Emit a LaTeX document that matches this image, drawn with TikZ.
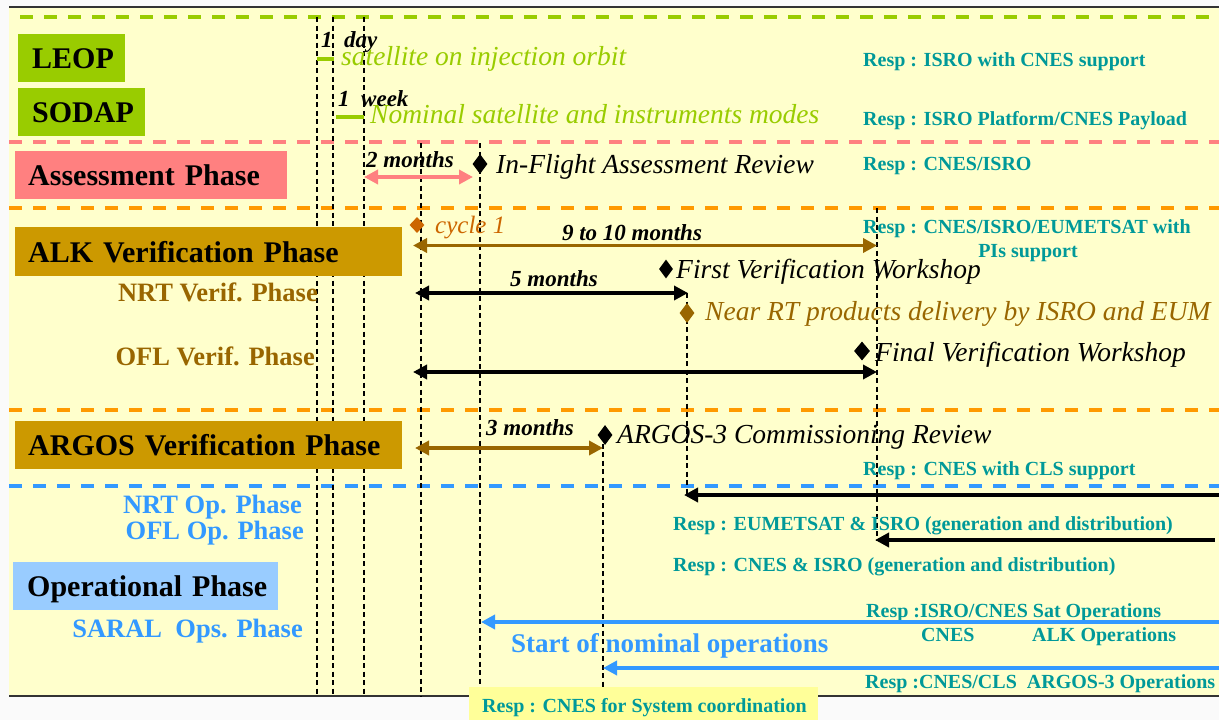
\documentclass[tikz,border=0pt]{standalone}
\usepackage{fontspec}
\setmainfont{Liberation Serif}
\usetikzlibrary{arrows.meta,shapes.geometric}
\definecolor{bgy}{HTML}{FFFFCC}
\definecolor{greenc}{HTML}{99CC00}
\definecolor{pinkc}{HTML}{FF8080}
\definecolor{orangec}{HTML}{FF9900}
\definecolor{bluec}{HTML}{3399FF}
\definecolor{goldc}{HTML}{CC9900}
\definecolor{brownc}{HTML}{996600}
\definecolor{cycc}{HTML}{CC6600}
\definecolor{tealc}{HTML}{009999}
\definecolor{lblue}{HTML}{99CCFF}
\definecolor{yboxc}{HTML}{FFFF99}
\definecolor{edgec}{HTML}{333333}
\newcommand\fsz[1]{\fontsize{#1}{#1}\selectfont}
\tikzset{
  hd/.style={line width=3.5pt, dash pattern=on 13pt off 11pt},
  vd/.style={line width=1.3pt, dash pattern=on 5pt off 3.5pt, black},
  dur/.style={font=\fsz{23}\bfseries\itshape, anchor=base west, inner sep=0pt},
  evt/.style={font=\fsz{27.5}\itshape, anchor=base west, inner sep=0pt},
  resp/.style={font=\fsz{20}\bfseries, text=tealc, anchor=base west, inner sep=0pt},
  sublab/.style={font=\fsz{26.5}\bfseries, anchor=base east, inner sep=0pt},
  dmd/.style={diamond, inner sep=0pt, minimum width=15pt, minimum height=20pt},
  darr/.style={line width=3.5pt, {Triangle[length=14pt,width=14pt]}-{Triangle[length=14pt,width=14pt]}},
  larr/.style={line width=3.5pt, {Triangle[length=14pt,width=14pt]}-},
  bar/.style={line width=4pt, greenc},
  phbox/.style={anchor=north west, inner ysep=0pt, text height=21pt, text depth=0pt, align=left, font=\fsz{30}\bfseries}
}
\begin{document}
\begin{tikzpicture}[x=1pt,y=-1pt]
\useasboundingbox (0,0) rectangle (1219,720);
\fill[white!98!black] (0,0) rectangle (1219,720);
\fill[bgy] (9,7) rectangle (1219,696);
\draw[line width=1.6pt, edgec] (9,7) -- (1219,7);
\draw[line width=1.6pt, edgec] (9,696) -- (1219,696);

% horizontal phase separators
\draw[hd, greenc] (20,17) -- (1219,17);
\draw[hd, pinkc] (9,142) -- (1219,142);
\draw[hd, orangec] (9,208) -- (1219,208);
\draw[hd, orangec] (9,410) -- (1219,410);
\draw[hd, bluec] (9,486) -- (1219,486);

% vertical time markers
\coordinate (t1a) at (317,17);  \coordinate (t1b) at (317,696);
\coordinate (t2a) at (333,17);  \coordinate (t2b) at (333,696);
\coordinate (t3a) at (364,17);  \coordinate (t3b) at (364,696);
\coordinate (t4a) at (421,143); \coordinate (t4b) at (421,696);
\coordinate (t5a) at (480,143); \coordinate (t5b) at (480,696);
\coordinate (t6a) at (603,435); \coordinate (t6b) at (603,687);
\coordinate (t7a) at (687,293); \coordinate (t7b) at (687,495);
\coordinate (t8a) at (877,208); \coordinate (t8b) at (877,540);
\foreach \i in {1,...,8} { \draw[vd] (t\i a) -- (t\i b); }

% phase boxes
\node[phbox, fill=greenc, inner xsep=14pt, text width=79pt, minimum height=48pt] (leop) at (18,34) {\mbox{LEOP}};
\node[phbox, fill=greenc, inner xsep=14pt, text width=99pt, minimum height=48pt] (sodap) at (18,88) {\mbox{SODAP}};
\node[phbox, fill=pinkc, inner xsep=13pt, text width=246pt, minimum height=48pt] (assess) at (15,151) {\mbox{Assessment Phase}};
\node[phbox, fill=goldc, inner xsep=13pt, text width=361pt, minimum height=49pt] (alk) at (15,227) {\mbox{ALK Verification Phase}};
\node[phbox, fill=goldc, inner xsep=13pt, text width=361pt, minimum height=48pt] (argosb) at (15,421) {\mbox{ARGOS Verification Phase}};
\node[phbox, fill=lblue, inner xsep=14pt, text width=237pt, minimum height=48pt] (oper) at (13,562) {\mbox{Operational Phase}};

% sub-phase labels
\node[sublab, text=brownc] (nrtv) at (318,301) {NRT Verif. Phase};
\node[sublab, text=brownc] (oflv) at (315,365) {OFL Verif. Phase};
\node[sublab, text=bluec] (nrto) at (302,513) {NRT Op. Phase};
\node[sublab, text=bluec] (oflo) at (304,539) {OFL Op. Phase};
\node[sublab, text=bluec] (saral) at (303,637) {SARAL~~Ops. Phase};

% LEOP / SODAP
\node[dur] (day) at (321,47) {1~~day};
\coordinate (b1a) at (317,59); \coordinate (b1b) at (334,59);
\draw[bar] (b1a) -- (b1b);
\node[evt, text=greenc] (sat) at (341,65.7) {satellite on injection orbit};
\node[dur] (week) at (338,106) {1~~week};
\coordinate (b2a) at (336,117); \coordinate (b2b) at (364,117);
\draw[bar] (b2a) -- (b2b);
\node[evt, text=greenc] (nom) at (370,123) {Nominal satellite and instruments modes};

% Assessment
\node[dur] (twom) at (366,167) {2 months};
\coordinate (p1) at (364,177); \coordinate (p2) at (473,177);
\draw[darr, pinkc] (p1) -- (p2);
\node[dmd, fill=black] (d1) at (480,164) {};
\node[evt] (ifar) at (496,173) {In-Flight Assessment Review};

% Resp texts top
\node[resp] (r1) at (863,66.7) {Resp : ISRO with CNES support};
\node[resp] (r2) at (863,125) {Resp : ISRO Platform/CNES Payload};
\node[resp] (r3) at (863,170) {Resp : CNES/ISRO};

% ALK verification
\node[dmd, fill=cycc, minimum width=15pt, minimum height=16pt] (dc) at (417,225) {};
\node[font=\fsz{25}\itshape, text=cycc, anchor=base west, inner sep=0pt] (cyc) at (435,233) {cycle 1};
\node[dur, anchor=base] (nine) at (632,240) {9 to 10 months};
\coordinate (a1l) at (413,245.5); \coordinate (a1r) at (877,245.5);
\draw[darr, brownc] (a1l) -- (a1r);
\node[resp] (r4) at (863,233) {Resp : CNES/ISRO/EUMETSAT with};
\node[resp, anchor=base] (r4b) at (1028,257) {PIs support};
\node[dmd, fill=black, minimum width=14pt, minimum height=19pt] (d2) at (666,269) {};
\node[evt] (fvw) at (676,278) {First Verification Workshop};
\node[dur] (five) at (510,286) {5 months};
\coordinate (a2l) at (415,293); \coordinate (a2r) at (688,293);
\draw[darr, black] (a2l) -- (a2r);
\node[dmd, fill=brownc] (d3) at (687,313) {};
\node[evt, text=brownc] (nrtd) at (705,320) {Near RT products delivery by ISRO and EUM};
\node[dmd, fill=black, minimum width=16pt, minimum height=19pt] (d4) at (862,351) {};
\node[evt] (final) at (875,361.7) {Final Verification Workshop};
\coordinate (a3l) at (413,372); \coordinate (a3r) at (877,372);
\draw[darr, black] (a3l) -- (a3r);

% ARGOS verification
\node[dur] (three) at (486,435) {3 months};
\coordinate (a4l) at (415,448); \coordinate (a4r) at (603,448);
\draw[darr, brownc] (a4l) -- (a4r);
\node[dmd, fill=black] (d5) at (605,435) {};
\node[evt] (argos) at (617,443) {ARGOS-3 Commissioning Review};
\node[resp] (r5) at (863,475) {Resp : CNES with CLS support};

% Operational
\coordinate (o1r) at (1219,495); \coordinate (o1l) at (684,495);
\draw[larr, black] (o1l) -- (o1r);
\node[resp] (r6) at (673,530) {Resp : EUMETSAT \& ISRO (generation and distribution)};
\coordinate (o2r) at (1215,540); \coordinate (o2l) at (875,540);
\draw[larr, black] (o2l) -- (o2r);
\node[resp] (r7) at (673,571) {Resp : CNES \& ISRO (generation and distribution)};
\node[resp] (r8) at (866,617) {Resp :ISRO/CNES Sat Operations};
\coordinate (o3r) at (1219,622); \coordinate (o3l) at (481,622);
\draw[larr, bluec] (o3l) -- (o3r);
\node[resp] (cnes) at (921,641) {CNES};
\node[resp] (alkop) at (1032,641) {ALK Operations};
\node[font=\fsz{27}\bfseries, text=bluec, anchor=base west, inner sep=0pt] (start) at (511,652) {Start of nominal operations};
\coordinate (o4r) at (1219,668); \coordinate (o4l) at (603,668);
\draw[larr, bluec] (o4l) -- (o4r);
\node[resp] (r9) at (865,688) {Resp :CNES/CLS~~ARGOS-3 Operations};

% system coordination box
\node[fill=yboxc, anchor=north west, minimum width=349pt, minimum height=33pt, inner sep=0pt] (ybox) at (469,687) {};
\node[resp] (r10) at (482,712) {Resp : CNES for System coordination};
\end{tikzpicture}
\end{document}
